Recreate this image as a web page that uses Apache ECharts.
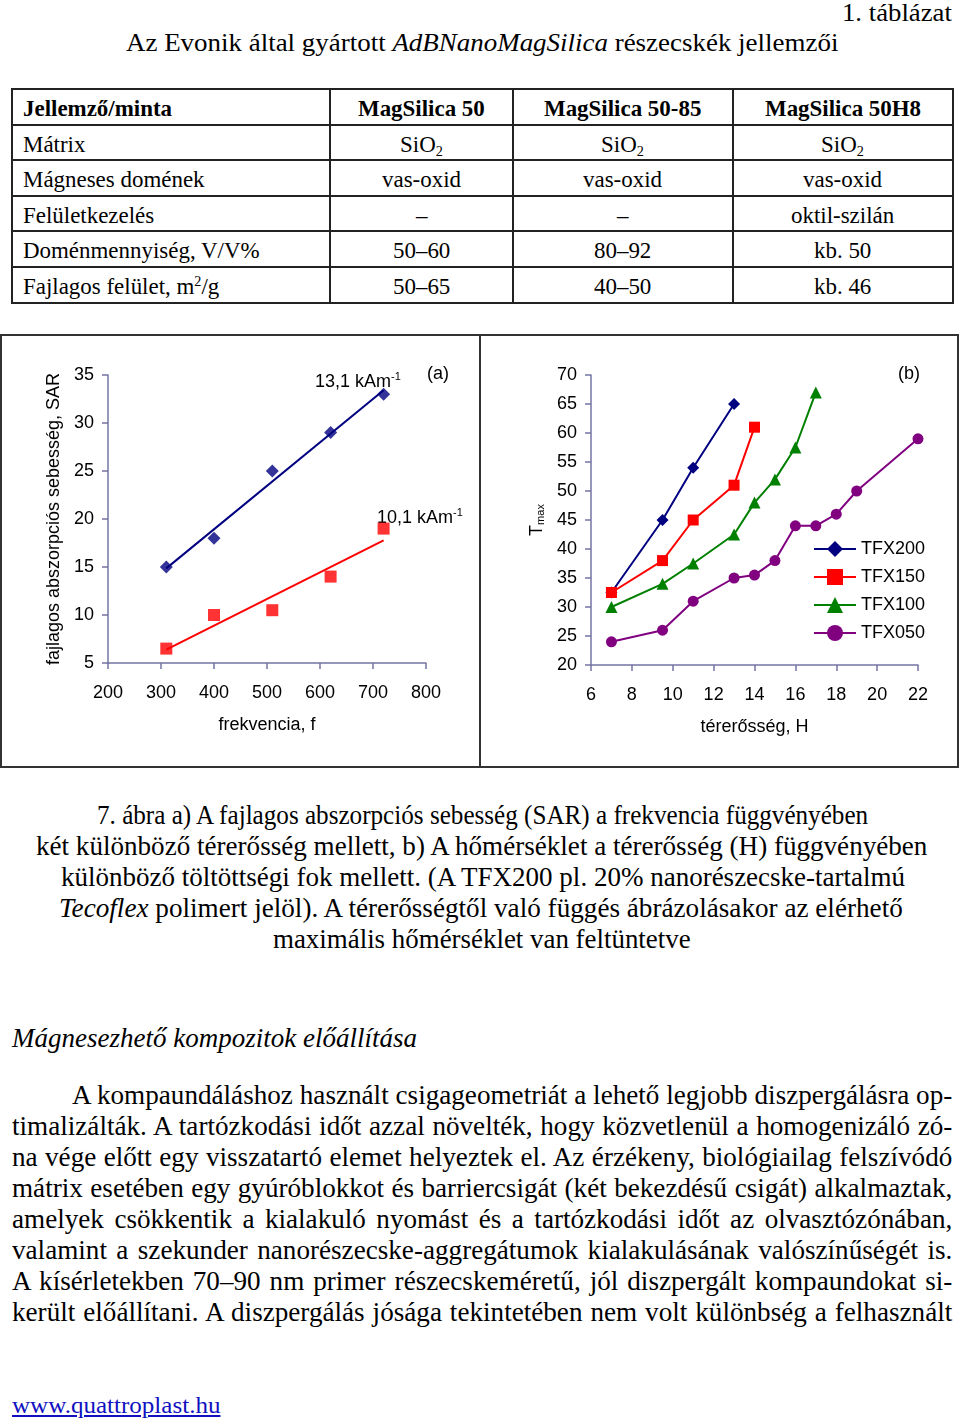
<!DOCTYPE html>
<html><head><meta charset="utf-8">
<script src="https://cdn.jsdelivr.net/npm/echarts@6/dist/echarts.min.js"></script>
<style>
html,body{margin:0;padding:0;background:#fff;}
#page{position:relative;width:960px;height:1427px;overflow:hidden;font-family:"Liberation Serif","Times New Roman",serif;color:#000;}
.ln{position:absolute;white-space:nowrap;line-height:1;}
.ln > span{display:inline-block;transform-origin:0 50%;white-space:nowrap;}
sub{font-size:0.62em;vertical-align:-0.25em;line-height:0;}
sup{font-size:0.62em;vertical-align:0.55em;line-height:0;}
.hl{position:absolute;background:#222;height:2px;}
.vl{position:absolute;background:#222;width:1.5px;}
#box{position:absolute;left:0;top:334px;width:959px;height:434px;box-sizing:border-box;border:2px solid #333;}
#div{position:absolute;left:479px;top:334px;width:2px;height:434px;background:#333;}
#chart{position:absolute;left:0;top:334px;width:960px;height:434px;}
a{color:#1010c0;}
</style></head>
<body><div id="page">

<div class="ln" data-x="842" data-w="110" data-y="13" style="font-size:26px"><span>1. táblázat</span></div>
<div class="ln" data-x="126" data-w="712" data-y="43" style="font-size:26px"><span>Az Evonik által gyártott <i>AdBNanoMagSilica</i> részecskék jellemzői</span></div>

<div id="box"></div>
<div id="div"></div>
<div id="chart"></div>

<div class="ln" data-x="97" data-w="771" data-y="815" style="font-size:28px"><span>7. ábra a) A fajlagos abszorpciós sebesség (SAR) a frekvencia függvényében</span></div>
<div class="ln" data-x="36" data-w="891" data-y="846" style="font-size:28px"><span>két különböző térerősség mellett, b) A hőmérséklet a térerősség (H) függvényében</span></div>
<div class="ln" data-x="61" data-w="844" data-y="877" style="font-size:28px"><span>különböző töltöttségi fok mellett. (A TFX200 pl. 20% nanorészecske-tartalmú</span></div>
<div class="ln" data-x="59" data-w="844" data-y="908" style="font-size:28px"><span><i>Tecoflex</i> polimert jelöl). A térerősségtől való függés ábrázolásakor az elérhető</span></div>
<div class="ln" data-x="273" data-w="418" data-y="939" style="font-size:28px"><span>maximális hőmérséklet van feltüntetve</span></div>

<div class="ln" data-x="12" data-w="405" data-y="1038" style="font-size:28px"><span><i>Mágnesezhető kompozitok előállítása</i></span></div>

<div class="ln j" data-x="72" data-w="880" data-y="1095" style="font-size:28px"><span>A kompaundáláshoz használt csigageometriát a lehető legjobb diszpergálásra op-</span></div>
<div class="ln j" data-x="12" data-w="940" data-y="1126" style="font-size:28px"><span>timalizálták. A tartózkodási időt azzal növelték, hogy közvetlenül a homogenizáló zó-</span></div>
<div class="ln j" data-x="12" data-w="940" data-y="1157" style="font-size:28px"><span>na vége előtt egy visszatartó elemet helyeztek el. Az érzékeny, biológiailag felszívódó</span></div>
<div class="ln j" data-x="12" data-w="940" data-y="1188" style="font-size:28px"><span>mátrix esetében egy gyúróblokkot és barriercsigát (két bekezdésű csigát) alkalmaztak,</span></div>
<div class="ln j" data-x="12" data-w="940" data-y="1219" style="font-size:28px"><span>amelyek csökkentik a kialakuló nyomást és a tartózkodási időt az olvasztózónában,</span></div>
<div class="ln j" data-x="12" data-w="940" data-y="1250" style="font-size:28px"><span>valamint a szekunder nanorészecske-aggregátumok kialakulásának valószínűségét is.</span></div>
<div class="ln j" data-x="12" data-w="940" data-y="1281" style="font-size:28px"><span>A kísérletekben 70–90 nm primer részecskeméretű, jól diszpergált kompaundokat si-</span></div>
<div class="ln j" data-x="12" data-w="940" data-y="1312" style="font-size:28px"><span>került előállítani. A diszpergálás jósága tekintetében nem volt különbség a felhasznált</span></div>

<div class="ln" data-x="12" data-w="208" data-y="1405" style="font-size:23px"><span><a href="#">www.quattroplast.hu</a></span></div>

</div>
<script>
// ---------- table content ----------
const tableHeader = ['Jellemző/minta', 'MagSilica 50', 'MagSilica 50-85', 'MagSilica 50H8'];
const tableRows = [
  ['Mátrix', 'SiO<sub>2</sub>', 'SiO<sub>2</sub>', 'SiO<sub>2</sub>'],
  ['Mágneses domének', 'vas-oxid', 'vas-oxid', 'vas-oxid'],
  ['Felületkezelés', '–', '–', 'oktil-szilán'],
  ['Doménmennyiség, V/V%', '50–60', '80–92', 'kb. 50'],
  ['Fajlagos felület, m<sup>2</sup>/g', '50–65', '40–50', 'kb. 46']
];

// ---------- chart (a) data ----------
const freq = [310, 400, 510, 620, 720];
const sar131 = [15, 18, 25, 29, 33];
const sar101 = [6.5, 10, 10.5, 14, 19];

// ---------- chart (b) data ----------
const H200 = [7, 9.5, 11, 13];
const T200 = [32.5, 45, 54, 65];
const H150 = [7, 9.5, 11, 13, 14];
const T150 = [32.5, 38, 45, 51, 61];
const H100 = [7, 9.5, 11, 13, 14, 15, 16, 17];
const T100 = [30, 34, 37.5, 42.5, 48, 52, 57.5, 67];
const H050 = [7, 9.5, 11, 13, 14, 15, 16, 17, 18, 19, 22];
const T050 = [24, 26, 31, 35, 35.5, 38, 44, 44, 46, 50, 59];
const legendNames = ['TFX200', 'TFX150', 'TFX100', 'TFX050'];

// ---------- build table (layout only) ----------
const page = document.getElementById('page');
const rowLines = [89, 125, 160, 196, 231, 267, 303];
const colLines = [12, 330, 513, 733, 953];
rowLines.forEach(y => { const d = document.createElement('div'); d.className = 'hl'; d.style.left = '12px'; d.style.width = '942px'; d.style.top = (y - 1) + 'px'; page.appendChild(d); });
colLines.forEach(x => { const d = document.createElement('div'); d.className = 'vl'; d.style.left = (x - 0.75) + 'px'; d.style.top = '88px'; d.style.height = '216px'; page.appendChild(d); });
const allRows = [tableHeader].concat(tableRows);
allRows.forEach((row, r) => {
  const cy = (rowLines[r] + rowLines[r + 1]) / 2 + 1;
  row.forEach((txt, c) => {
    const d = document.createElement('div');
    d.className = 'ln tb';
    d.style.fontSize = '24px';
    if (r === 0) d.style.fontWeight = 'bold';
    d.dataset.y = cy;
    if (c === 0) d.dataset.x = 23; else d.dataset.cx = (colLines[c] + colLines[c + 1]) / 2;
    if (r === 4 && c === 0) d.dataset.ref = '237';
    d.innerHTML = '<span>' + txt + '</span>';
    page.appendChild(d);
  });
});

// ---------- text fitting ----------
function layoutText() {
  const lines = Array.from(document.querySelectorAll('.ln'));
  const meas = lines.map(el => ({ w: el.firstElementChild.offsetWidth, h: el.offsetHeight }));
  let tableScale = 0.85;
  lines.forEach((el, i) => { if (el.dataset.ref) tableScale = (+el.dataset.ref) / meas[i].w; });
  let s0 = 10;
  lines.forEach((el, i) => { if (el.classList.contains('j')) s0 = Math.min(s0, (+el.dataset.w) / meas[i].w); });
  lines.forEach((el, i) => {
    const sp = el.firstElementChild;
    const w = meas[i].w, h = meas[i].h;
    const y = +el.dataset.y;
    el.style.top = (y - h / 2) + 'px';
    if (el.classList.contains('tb')) {
      sp.style.transform = 'scaleX(' + tableScale + ')';
      if (el.dataset.cx) el.style.left = (+el.dataset.cx - w * tableScale / 2) + 'px';
      else el.style.left = el.dataset.x + 'px';
    } else if (el.classList.contains('j')) {
      const tw = +el.dataset.w;
      el.style.width = (tw / s0 + 2) + 'px';
      sp.style.width = (tw / s0 + 0.3) + 'px';
      sp.style.whiteSpace = 'normal';
      sp.style.textAlign = 'justify';
      sp.style.textAlignLast = 'justify';
      sp.style.transform = 'scaleX(' + s0 + ')';
      el.style.left = el.dataset.x + 'px';
    } else {
      const s = (+el.dataset.w) / w;
      sp.style.transform = 'scaleX(' + s + ')';
      el.style.left = el.dataset.x + 'px';
    }
  });
}
layoutText();

// ---------- chart ----------
function fit(xs, ys) {
  const n = xs.length;
  const mx = xs.reduce((a, b) => a + b, 0) / n, my = ys.reduce((a, b) => a + b, 0) / n;
  let sxy = 0, sxx = 0;
  for (let i = 0; i < n; i++) { sxy += (xs[i] - mx) * (ys[i] - my); sxx += (xs[i] - mx) ** 2; }
  const k = sxy / sxx;
  const x0 = Math.min(...xs), x1 = Math.max(...xs);
  return [[x0, my + k * (x0 - mx)], [x1, my + k * (x1 - mx)]];
}
const zip = (a, b) => a.map((v, i) => [v, b[i]]);

const axisCol = '#7474a4';
const FONT = 'Liberation Sans, Arial, sans-serif';
function axisCommon(extra) {
  return Object.assign({
    type: 'value',
    axisLine: { show: true, lineStyle: { color: axisCol, width: 1.5 } },
    axisTick: { show: true, inside: false, length: 6, lineStyle: { color: axisCol, width: 1.5 } },
    splitLine: { show: false },
    nameTextStyle: { color: '#000', fontSize: 18, fontFamily: FONT },
    nameLocation: 'middle'
  }, extra);
}
const lab = (m) => ({ color: '#000', fontSize: 18, fontFamily: FONT, margin: m, showMinLabel: true, showMaxLabel: true });

const chart = echarts.init(document.getElementById('chart'), null, { renderer: 'canvas' });
const subRich = { n: { fontSize: 18, fontFamily: FONT, color: '#000', lineHeight: 22 }, s: { fontSize: 11, fontFamily: FONT, color: '#000', lineHeight: 11, verticalAlign: 'top' } };

chart.setOption({
  animation: false,
  backgroundColor: 'transparent',
  grid: [
    { left: 108, top: 41, width: 318, height: 288 },
    { left: 591, top: 41, width: 327, height: 290 }
  ],
  xAxis: [
    axisCommon({ gridIndex: 0, min: 200, max: 800, interval: 100, name: 'frekvencia, f', nameGap: 53, axisLabel: lab(21) }),
    axisCommon({ gridIndex: 1, min: 6, max: 22, interval: 2, name: 'térerősség, H', nameGap: 53, axisLabel: lab(21) })
  ],
  yAxis: [
    axisCommon({ gridIndex: 0, min: 5, max: 35, interval: 5, name: 'fajlagos abszorpciós sebesség, SAR', nameGap: 45, nameRotate: 90, axisLabel: lab(14) }),
    axisCommon({ gridIndex: 1, min: 20, max: 70, interval: 5, name: 'T{s|max}', nameGap: 45, nameRotate: 90,
      nameTextStyle: { color: '#000', fontSize: 18, fontFamily: FONT, rich: { s: { fontSize: 11, fontFamily: FONT, color: '#000', verticalAlign: 'bottom', lineHeight: 12 } } },
      axisLabel: lab(14) })
  ],
  legend: {
    data: legendNames,
    orient: 'vertical', left: 808, top: 200,
    itemWidth: 42, itemHeight: 20, itemGap: 8,
    textStyle: { fontSize: 18, fontFamily: FONT, color: '#000', lineHeight: 20 },
    selectedMode: false
  },
  graphic: [
    { type: 'text', left: 315, top: 37, style: { text: '{n|13,1 kAm}{s|-1}', rich: subRich } },
    { type: 'text', left: 377, top: 173, style: { text: '{n|10,1 kAm}{s|-1}', rich: subRich } },
    { type: 'text', left: 427, top: 31, style: { text: '(a)', fontSize: 18, fontFamily: FONT, fill: '#000' } },
    { type: 'text', left: 898, top: 31, style: { text: '(b)', fontSize: 18, fontFamily: FONT, fill: '#000' } }
  ],
  series: [
    { name: 'trend131', type: 'line', xAxisIndex: 0, yAxisIndex: 0, data: fit(freq, sar131), showSymbol: false, lineStyle: { color: '#000080', width: 2 }, itemStyle: { color: '#000080' } },
    { name: 'trend101', type: 'line', xAxisIndex: 0, yAxisIndex: 0, data: fit(freq, sar101), showSymbol: false, lineStyle: { color: '#ff0000', width: 2 }, itemStyle: { color: '#ff0000' } },
    { name: '13,1', type: 'scatter', xAxisIndex: 0, yAxisIndex: 0, data: zip(freq, sar131), symbol: 'diamond', symbolSize: 13, itemStyle: { color: '#000080' } },
    { name: '10,1', type: 'scatter', xAxisIndex: 0, yAxisIndex: 0, data: zip(freq, sar101), symbol: 'rect', symbolSize: 12, itemStyle: { color: '#ff0000' } },
    { name: 'TFX200', type: 'line', xAxisIndex: 1, yAxisIndex: 1, data: zip(H200, T200), symbol: 'diamond', symbolSize: 12, lineStyle: { color: '#000080', width: 2 }, itemStyle: { color: '#000080' } },
    { name: 'TFX150', type: 'line', xAxisIndex: 1, yAxisIndex: 1, data: zip(H150, T150), symbol: 'rect', symbolSize: 11, lineStyle: { color: '#ff0000', width: 2 }, itemStyle: { color: '#ff0000' } },
    { name: 'TFX100', type: 'line', xAxisIndex: 1, yAxisIndex: 1, data: zip(H100, T100), symbol: 'triangle', symbolSize: 12, lineStyle: { color: '#008000', width: 2 }, itemStyle: { color: '#008000' } },
    { name: 'TFX050', type: 'line', xAxisIndex: 1, yAxisIndex: 1, data: zip(H050, T050), symbol: 'circle', symbolSize: 11, lineStyle: { color: '#800080', width: 2 }, itemStyle: { color: '#800080' } }
  ]
});
</script>
</body></html>
